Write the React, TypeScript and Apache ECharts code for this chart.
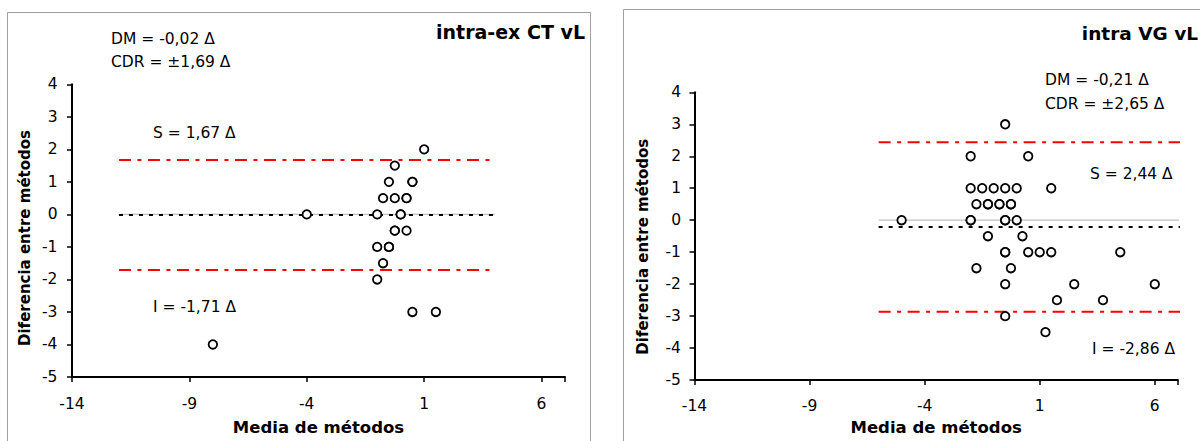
import React, { useEffect, useRef } from "react";
import * as echarts from "echarts";

// ---- Data ----
const X_TICKS = [-14, -9, -4, 1, 6];
const X_MIN = -14;
const X_MAX = 7;
const X_STEP = 5;
const Y_MIN = -5;
const Y_MAX = 4;
const Y_STEP = 1;

// Left panel: intra-ex CT vL
const leftMeans = [1, -0.25, -0.5, 0.5, 0.5, -0.75, -0.25, 0.25, 0.25, -4, -1, 0, 0, -0.25, -0.25, 0.25, -1, -0.5, -0.5, -0.75, -1, 0.5, 1.5, -8];
const leftDiffs = [2, 1.5, 1, 1, 1, 0.5, 0.5, 0.5, 0.5, 0, 0, 0, 0, -0.5, -0.5, -0.5, -1, -1, -1, -1.5, -2, -3, -3, -4];
const leftStats = [-0.02, 1.67, -1.71]; // DM, S, I
const leftSpan = [-12, 4];

// Right panel: intra VG vL
const rightMeans = [
  -0.5, -2, 0.5,
  -2, -1.5, -1, -0.5, 0, 1.5,
  -1.75, -1.25, -1.25, -0.75, -0.75, -0.25, -0.25,
  -5, -2, -2, -0.5, -0.5, 0,
  -1.25, 0.25,
  -0.5, -0.5, 0.5, 1, 1.5, 4.5,
  -1.75, -0.25,
  -0.5, 2.5, 6,
  1.75, 3.75,
  -0.5,
  1.25,
];
const rightDiffs = [
  3, 2, 2,
  1, 1, 1, 1, 1, 1,
  0.5, 0.5, 0.5, 0.5, 0.5, 0.5, 0.5,
  0, 0, 0, 0, 0, 0,
  -0.5, -0.5,
  -1, -1, -1, -1, -1, -1,
  -1.5, -1.5,
  -2, -2, -2,
  -2.5, -2.5,
  -3,
  -3.5,
];
const rightStats = [-0.21, 2.44, -2.86]; // DM, S, I
const rightSpan = [-6, 7.3];

const titles = ["intra-ex CT vL", "intra VG vL"];
const xTitle = "Media de métodos";
const yTitle = "Diferencia entre métodos";
const leftNotes = ["DM = -0,02 Δ", "CDR = ±1,69 Δ", "S = 1,67 Δ", "I = -1,71 Δ"];
const rightNotes = ["DM = -0,21 Δ", "CDR = ±2,65 Δ", "S = 2,44 Δ", "I = -2,86 Δ"];

const FONT = "'DejaVu Sans', 'Liberation Sans', sans-serif";

function buildOption() {
  const grids = [
    { left: 72, top: 84.3, width: 493, height: 295.7 },
    { left: 694.5, top: 92.3, width: 483.3, height: 294.7 },
  ];

  const xAxes = [0, 1].map((i) => ({
    type: "value",
    gridIndex: i,
    min: X_MIN,
    max: X_MAX,
    interval: X_STEP,
    axisLine: { onZero: false, lineStyle: { color: "#000", width: 2 } },
    axisTick: { inside: false, length: 5, lineStyle: { color: "#000", width: 1.5 } },
    splitLine: { show: false },
    axisLabel: {
      color: "#000",
      fontFamily: FONT,
      fontSize: 15.5,
      margin: i === 0 ? 19 : 18,
      formatter: (v: number) => (X_TICKS.includes(v) ? String(v) : ""),
    },
    name: xTitle,
    nameLocation: "middle",
    nameGap: i === 0 ? 42 : 31,
    nameTextStyle: { color: "#000", fontFamily: FONT, fontWeight: "bold", fontSize: 16.5 },
  }));

  const yAxes = [0, 1].map((i) => ({
    type: "value",
    gridIndex: i,
    min: Y_MIN,
    max: Y_MAX,
    interval: Y_STEP,
    axisLine: { onZero: false, lineStyle: { color: "#000", width: 2 } },
    axisTick: { inside: false, length: 5, lineStyle: { color: "#000", width: 1.5 } },
    splitLine: { show: false },
    axisLabel: { color: "#000", fontFamily: FONT, fontSize: 15.5, margin: i === 0 ? 14.5 : 13.5 },
  }));

  const refLines = (idx: number, span: number[], stats: number[]) => {
    const mk = (y: number, lineStyle: any, z: number) => ({
      type: "line",
      xAxisIndex: idx,
      yAxisIndex: idx,
      data: [
        [span[0], y],
        [span[1], y],
      ],
      symbol: "none",
      silent: true,
      clip: false,
      z,
      lineStyle,
    });
    return [
      mk(0, { color: "#c0c0c0", width: 1.2, type: "solid" }, 1),
      mk(stats[0], { color: "#000", width: 2, type: [4, 6] }, 2),
      mk(stats[1], { color: "#ff0000", width: 2, type: [12, 6.5, 4, 6.5] }, 2),
      mk(stats[2], { color: "#ff0000", width: 2, type: [12, 6.5, 4, 6.5] }, 2),
    ];
  };

  const scatter = (idx: number, means: number[], diffs: number[]) => ({
    type: "scatter",
    xAxisIndex: idx,
    yAxisIndex: idx,
    data: means.map((m, k) => [m, diffs[k]]),
    symbol: "circle",
    symbolSize: 8.5,
    silent: true,
    z: 5,
    itemStyle: { color: "#fff", borderColor: "#000", borderWidth: 1.8, opacity: 1 },
  });

  const txt = (text: string, x: number, y: number, opts: any = {}) => ({
    type: "text",
    x,
    y,
    silent: true,
    rotation: opts.rotation || 0,
    style: {
      text,
      fill: "#000",
      font: opts.font || `15.5px ${FONT}`,
      textAlign: opts.align || "left",
      textVerticalAlign: "middle",
    },
  });

  const BOLD_TITLE = `bold 19px ${FONT}`;
  const BOLD_TITLE_R = `bold 18.5px ${FONT}`;
  const BOLD_Y = `bold 15px ${FONT}`;

  const graphic = [
    {
      type: "rect",
      silent: true,
      shape: { x: 7.5, y: 12.5, width: 583, height: 440 },
      style: { fill: "none", stroke: "#a0a0a0", lineWidth: 1 },
    },
    {
      type: "rect",
      silent: true,
      shape: { x: 623.5, y: 9.5, width: 620, height: 440 },
      style: { fill: "none", stroke: "#a0a0a0", lineWidth: 1 },
    },
    txt(titles[0], 585, 31.7, { font: BOLD_TITLE, align: "right" }),
    txt(titles[1], 1198, 33.3, { font: BOLD_TITLE_R, align: "right" }),
    txt(leftNotes[0], 111, 38.5),
    txt(leftNotes[1], 111, 62.3),
    txt(leftNotes[2], 153, 133.3),
    txt(leftNotes[3], 153, 307.3),
    txt(rightNotes[0], 1045, 80),
    txt(rightNotes[1], 1045, 104.3),
    txt(rightNotes[2], 1090, 174),
    txt(rightNotes[3], 1092, 349.3),
    txt(yTitle, 25, 238, { font: BOLD_Y, align: "center", rotation: Math.PI / 2 }),
    txt(yTitle, 642.5, 246.7, { font: BOLD_Y, align: "center", rotation: Math.PI / 2 }),
  ];

  return {
    animation: false,
    backgroundColor: "#fff",
    grid: grids,
    xAxis: xAxes,
    yAxis: yAxes,
    graphic,
    series: [
      ...refLines(0, leftSpan, leftStats),
      ...refLines(1, rightSpan, rightStats),
      scatter(0, leftMeans, leftDiffs),
      scatter(1, rightMeans, rightDiffs),
    ],
  };
}

export default function App() {
  const ref = useRef<HTMLDivElement>(null);
  useEffect(() => {
    if (!ref.current) return;
    const chart = echarts.init(ref.current, undefined, { renderer: "svg" });
    chart.setOption(buildOption() as any);
    return () => chart.dispose();
  }, []);
  return (
    <div
      ref={ref}
      style={{ position: "fixed", left: 0, top: 0, width: 1200, height: 441, background: "#fff" }}
    />
  );
}
